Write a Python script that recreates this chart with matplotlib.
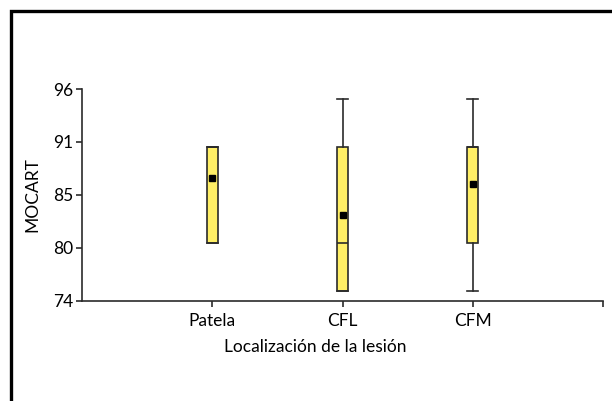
import numpy as np
import matplotlib
matplotlib.use('Agg')
import matplotlib.pyplot as plt
from matplotlib.lines import Line2D

plt.rcParams['font.family'] = ['Lato', 'DejaVu Sans']

# 資料
categories = ['Patela', 'CFL', 'CFM']
mins = [80, 75, 75]
q1s = [80, 75, 80]
medians = [90, 80, 90]
q3s = [90, 90, 90]
maxs = [90, 95, 95]
means = [86.7, 82.9, 86.1]

ytick_vals = [74, 79.5, 85, 90.5, 96]
ytick_labels = ['74', '80', '85', '91', '96']

fig = plt.figure(figsize=(6.12, 4.01), dpi=100)
ax = fig.add_axes([82 / 612, 1 - 300.7 / 401, 521 / 612, 211.7 / 401])

stats = []
for i, name in enumerate(categories):
    stats.append({'label': name, 'whislo': mins[i], 'q1': q1s[i], 'med': medians[i],
                  'q3': q3s[i], 'whishi': maxs[i], 'mean': means[i], 'fliers': []})

edge = '#2b2b2b'
fs = 12.5
ax.bxp(stats, positions=[1, 2, 3], widths=0.085, patch_artist=True, showmeans=True,
       boxprops=dict(facecolor='#ffef66', edgecolor=edge, linewidth=1.2),
       medianprops=dict(color=edge, linewidth=1.2),
       whiskerprops=dict(color=edge, linewidth=1.2),
       capprops=dict(color=edge, linewidth=1.2),
       capwidths=0.085,
       meanprops=dict(marker='s', markerfacecolor='black', markeredgecolor='black', markersize=4))

ax.set_xlim(0, 4)
ax.set_ylim(74, 96)
ax.set_xticks([1, 2, 3, 4])
ax.set_xticklabels(categories + [''], fontsize=fs)
ax.set_yticks(ytick_vals)
ax.set_yticklabels(ytick_labels, fontsize=fs)

for s in ['top', 'right']:
    ax.spines[s].set_visible(False)
for s in ['left', 'bottom']:
    ax.spines[s].set_color(edge)
    ax.spines[s].set_linewidth(1.2)
ax.tick_params(colors=edge, length=4, width=1.2, labelcolor='black')
ax.tick_params(axis='x', pad=5)
ax.tick_params(axis='y', pad=2)

ax.set_ylabel('MOCART', fontsize=fs, va='center')
ax.yaxis.set_label_coords((32 - 82) / 521, 0.5)
ax.set_xlabel('Localización de la lesión', fontsize=fs, va='center')
ax.xaxis.set_label_coords((315.5 - 82) / 521, -(347 - 300.7) / 211.7)

# 外框 (左、上)
fig.add_artist(Line2D([10.5 / 612, 10.5 / 612, 1.0], [0.0, 1 - 10.5 / 401, 1 - 10.5 / 401],
                      transform=fig.transFigure, color='black', linewidth=2.4,
                      solid_joinstyle='miter'))

plt.savefig('out.png', dpi=100)
